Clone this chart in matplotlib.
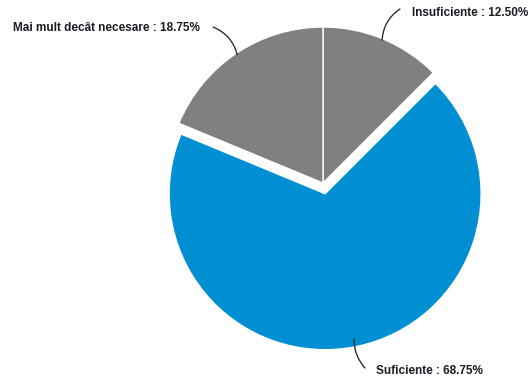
import matplotlib
matplotlib.use("Agg")
import matplotlib.pyplot as plt
import numpy as np

categories = ["Insuficiente", "Suficiente", "Mai mult decât necesare"]
values = [12.50, 68.75, 18.75]
colors = ["#808080", "#008fd3", "#808080"]

W, H = 530, 381
fig = plt.figure(figsize=(W / 100, H / 100), dpi=100)
ax = fig.add_axes([0, 0, 1, 1])
ax.set_xlim(0, W)
ax.set_ylim(0, H)
ax.set_aspect("equal")
ax.axis("off")

cx, cy, r = 323, H - 183, 156
explode = [0, 0.07 * r, 0]  # matplotlib applies explode in data units
wedges, _ = ax.pie(values, colors=colors, explode=explode, startangle=90,
                   counterclock=False, center=(cx, cy), radius=r,
                   wedgeprops=dict(edgecolor="white", linewidth=1))
ax.set_xlim(0, W)
ax.set_ylim(0, H)

txt = dict(fontsize=8.5, fontweight="bold", color="#1c1c24",
           family=["Liberation Sans", "DejaVu Sans"], va="center")

specs = {
    "Insuficiente": ((412, 13), "left", (400, 9), 0.25, 0.99),
    "Suficiente": ((376, 371), "left", (365, 368), -0.2, 0.95),
    "Mai mult decât necesare": ((13, 28), "left", (213, 27), -0.25, 0.99),
}

for w, cat, v in zip(wedges, categories, values):
    (tx, ty), ha, (lx, ly), rad, f = specs[cat]
    ang = np.deg2rad((w.theta1 + w.theta2) / 2)
    wx, wy = w.center
    px = wx + r * np.cos(ang) * f
    py = wy + r * np.sin(ang) * f
    ax.annotate("", xy=(px, py), xytext=(lx, H - ly),
                arrowprops=dict(arrowstyle="-", color="#1c1c24", lw=0.9,
                                connectionstyle=f"arc3,rad={rad}",
                                shrinkA=0, shrinkB=0))
    ax.text(tx, H - ty, f"{cat} : {v:.2f}%", ha=ha, **txt)

fig.savefig("out.png", dpi=100)
